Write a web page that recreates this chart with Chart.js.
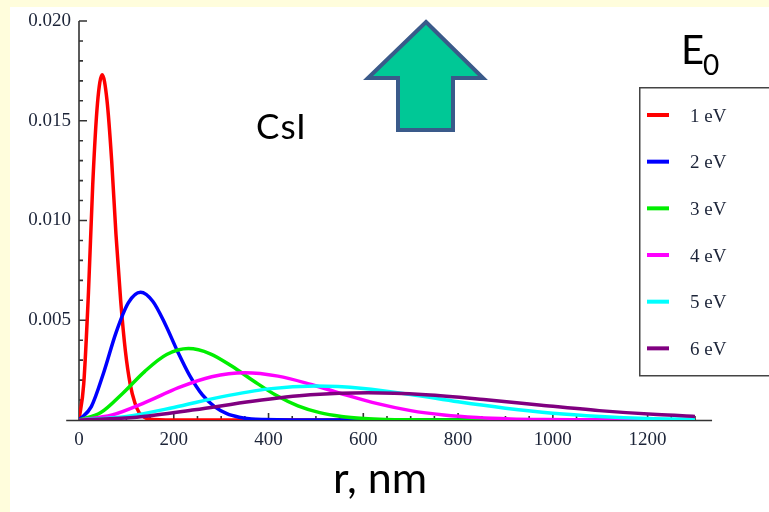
<!DOCTYPE html>
<html>
<head>
<meta charset="utf-8">
<script src="https://cdn.jsdelivr.net/npm/chart.js@4"></script>
<style>
  html, body { margin: 0; padding: 0; width: 769px; height: 512px; overflow: hidden; background: #fffddc; }
  #panel { position: absolute; left: 10px; top: 7px; right: 0; bottom: 0; background: #fff; }
  #plot { position: absolute; left: 0; top: 0; }
  #overlay { position: absolute; left: 0; top: 0; }
</style>
</head>
<body>
<div id="panel"></div>
<canvas id="plot" width="769" height="512"></canvas>
<svg id="overlay" width="769" height="512" xmlns="http://www.w3.org/2000/svg"></svg>
<script>
// ===================== Data =====================
const rRed = [0, 10, 20, 29, 39, 49, 59, 69, 78, 88, 98, 108, 118, 127, 137, 147, 200, 1300];
const vRed = [0, 0.00181, 0.00641, 0.01181, 0.01587, 0.0173, 0.01604, 0.01298, 0.00931, 0.00597, 0.00344, 0.0018, 0.00085, 0.00037, 0.00015, 0.00005, 0, 0];

const rBlue = [0, 26, 52, 78, 104, 130, 156, 182, 208, 234, 260, 286, 312, 338, 364, 390, 450, 1300];
const vBlue = [0, 0.00067, 0.00237, 0.00437, 0.00587, 0.0064, 0.00594, 0.0048, 0.00344, 0.00221, 0.00127, 0.00067, 0.00032, 0.00014, 0.00005, 0.00002, 0, 0];

const rGreen = [0, 46, 92, 139, 185, 231, 277, 323, 370, 416, 462, 508, 554, 601, 647, 693, 800, 1300];
const vGreen = [0, 0.00037, 0.00133, 0.00244, 0.00328, 0.00358, 0.00332, 0.00269, 0.00193, 0.00124, 0.00071, 0.00037, 0.00018, 0.00008, 0.00003, 0.00001, 0, 0];

const rMagenta = [0, 70, 140, 210, 280, 350, 420, 490, 560, 630, 700, 770, 840, 910, 980, 1050, 1300];
const vMagenta = [0, 0.00025, 0.00088, 0.00162, 0.00217, 0.00237, 0.0022, 0.00178, 0.00128, 0.00082, 0.00047, 0.00025, 0.00012, 0.00005, 0.00002, 0.00001, 0];

const rCyan = [0, 100, 200, 300, 400, 500, 600, 700, 800, 900, 1000, 1100, 1200, 1300];
const vCyan = [0, 0.00018, 0.00063, 0.00116, 0.00156, 0.0017, 0.00158, 0.00128, 0.00091, 0.00059, 0.00034, 0.00018, 0.00008, 0.00004];

const rPurple = [0, 122, 244, 366, 488, 610, 732, 854, 976, 1098, 1220, 1300];
const vPurple = [0, 0.00014, 0.00051, 0.00094, 0.00126, 0.00137, 0.00127, 0.00103, 0.00074, 0.00047, 0.00027, 0.00018];

const energyLabels = ['1 eV', '2 eV', '3 eV', '4 eV', '5 eV', '6 eV'];
const seriesColors = ['#ff0000', '#0000ff', '#00ee00', '#ff00ff', '#00ffff', '#800080'];
const seriesR = [rRed, rBlue, rGreen, rMagenta, rCyan, rPurple];
const seriesV = [vRed, vBlue, vGreen, vMagenta, vCyan, vPurple];

const xTickStep = 50;     // minor ticks, labels every 200
const yTickStep = 0.001;  // minor ticks, labels every 0.005

const TICK_FONT = { family: 'Liberation Serif', size: 19 };
const TICK_COLOR = '#1c2438';
const AXIS_COLOR = '#333';

// ===================== Axes with inward ticks =====================
const mathAxes = {
  id: 'mathAxes',
  beforeDatasetsDraw(chart) {
    const { ctx, scales: { x, y } } = chart;
    const ox = x.getPixelForValue(0);
    const oy = y.getPixelForValue(0);
    ctx.save();
    ctx.strokeStyle = AXIS_COLOR;
    ctx.lineWidth = 1.6;
    ctx.beginPath();
    ctx.moveTo(x.getPixelForValue(-27), oy + 0.5);
    ctx.lineTo(x.getPixelForValue(1336), oy + 0.5);
    ctx.moveTo(ox, oy);
    ctx.lineTo(ox, y.getPixelForValue(0.02));
    x.ticks.forEach(t => {
      const px = x.getPixelForValue(t.value);
      const len = t.value % 200 === 0 ? 7 : 4;
      ctx.moveTo(px, oy);
      ctx.lineTo(px, oy - len);
    });
    y.ticks.forEach(t => {
      const k = Math.round(t.value * 1000);
      if (k === 0) return;
      const py = y.getPixelForValue(t.value);
      const len = k % 5 === 0 ? 8 : 4;
      ctx.moveTo(ox, py);
      ctx.lineTo(ox + len, py);
    });
    ctx.stroke();
    ctx.restore();
  }
};

// ===================== Chart =====================
const datasets = energyLabels.map((label, i) => ({
  label,
  data: seriesR[i].map((r, j) => ({ x: r, y: seriesV[i][j] })),
  borderColor: seriesColors[i],
  borderWidth: 3.5,
  pointRadius: 0,
  fill: false,
  cubicInterpolationMode: 'monotone',
  order: energyLabels.length - i, // later energies drawn on top
}));

new Chart(document.getElementById('plot'), {
  type: 'line',
  data: { datasets },
  options: {
    responsive: false,
    animation: false,
    layout: { padding: { left: 19, right: 74, top: 21, bottom: 32 } },
    plugins: { legend: { display: false }, tooltip: { enabled: false } },
    scales: {
      x: {
        type: 'linear',
        min: 0,
        max: 1300,
        grid: { display: false, drawTicks: false },
        border: { display: false },
        ticks: {
          stepSize: xTickStep,
          autoSkip: false,
          maxRotation: 0,
          includeBounds: false,
          padding: 9,
          color: TICK_COLOR,
          font: TICK_FONT,
          callback: v => (v % 200 === 0 ? String(v) : ''),
        },
        afterFit: s => { s.height = 60; },
      },
      y: {
        type: 'linear',
        min: 0,
        max: 0.02,
        grid: { display: false, drawTicks: false },
        border: { display: false },
        ticks: {
          stepSize: yTickStep,
          autoSkip: false,
          padding: 8,
          color: TICK_COLOR,
          font: TICK_FONT,
          callback: v => {
            const k = Math.round(v * 1000);
            return k > 0 && k % 5 === 0 ? (k / 1000).toFixed(3) : '';
          },
        },
        afterFit: s => { s.width = 60; },
      },
    },
  },
  plugins: [mathAxes],
});

// ===================== Annotations and legend =====================
const svg = document.getElementById('overlay');
const NS = 'http://www.w3.org/2000/svg';

function add(tag, attrs, text) {
  const el = document.createElementNS(NS, tag);
  Object.entries(attrs).forEach(([k, v]) => el.setAttribute(k, v));
  if (text != null) el.textContent = text;
  svg.appendChild(el);
  return el;
}

// up arrow
add('polygon', {
  points: '426,22 483,78 453,78 453,130 398,130 398,78 368,78',
  fill: '#00c896', stroke: '#3a5a8a', 'stroke-width': 4, 'stroke-linejoin': 'miter',
});

const sans = 'Lato, "Open Sans", sans-serif';
add('text', { x: 256, y: 139, 'font-family': sans, 'font-size': 35, 'letter-spacing': 1, fill: '#000' }, 'CsI');
add('text', { x: 380, y: 493, 'font-family': sans, 'font-size': 43, fill: '#000', 'text-anchor': 'middle' }, 'r, nm');

add('text', { x: 681, y: 64, 'font-family': sans, 'font-size': 40, fill: '#000' }, 'E');
add('text', { x: 703, y: 75, 'font-family': sans, 'font-size': 28, fill: '#000' }, '0');

add('rect', { x: 639.75, y: 87.75, width: 200, height: 288, fill: '#fff', stroke: '#444', 'stroke-width': 1.5 });
energyLabels.forEach((label, i) => {
  const cy = 115 + i * 46.67;
  add('line', { x1: 647, y1: cy, x2: 669, y2: cy, stroke: seriesColors[i], 'stroke-width': 4 });
  add('text', { x: 690, y: cy + 6.5, 'font-family': 'Liberation Serif', 'font-size': 19, fill: TICK_COLOR }, label);
});
</script>
</body>
</html>
